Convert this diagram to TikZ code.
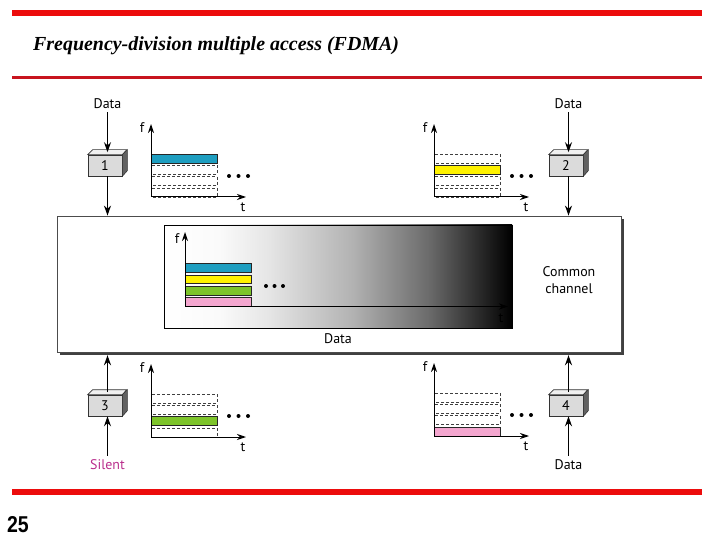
\documentclass[tikz,border=0pt]{standalone}
\usepackage{fontspec}
\setmainfont{Liberation Serif}
\newfontfamily\dsans{PT Sans}
\newfontfamily\numfont{Liberation Sans}
\usetikzlibrary{arrows.meta,calc}
\definecolor{slidered}{RGB}{236,12,12}
\definecolor{darkred}{RGB}{200,20,30}
\definecolor{bandblue}{RGB}{30,158,192}
\definecolor{bandyellow}{RGB}{255,242,0}
\definecolor{bandgreen}{RGB}{125,196,42}
\definecolor{bandpink}{RGB}{244,166,207}
\definecolor{silentcol}{RGB}{185,45,140}
\pgfdeclarehorizontalshading{fdmagrad}{100bp}{color(0bp)=(white); color(25bp)=(white); color(33bp)=(white!98!black); color(40bp)=(white!90!black); color(52bp)=(white!70!black); color(63bp)=(white!42!black); color(75bp)=(black); color(100bp)=(black)}
\tikzset{
  lbl/.style={font=\dsans\fontsize{14}{17}\selectfont, inner sep=0pt},
  arr/.style={-{Stealth[length=10bp,width=7bp]}, line width=1.4bp, black},
  cubefront/.style={draw=black!80, fill=black!14, minimum width=34bp, minimum height=21bp, inner sep=0pt, font=\dsans\fontsize{14}{15}\selectfont, line width=0.6bp},
  bandbox/.style={draw=black!85, line width=0.6bp},
  dbandbox/.style={draw=black!75, dash pattern=on 3bp off 2bp, line width=0.9bp},
  axisarr/.style={-{Stealth[length=9bp,width=6bp]}, line width=1bp},
}
\newcommand\fdcube[4]{%
  \node[cubefront] (#1) at (#2,#3) {#4};
  \filldraw[fill=black!6, draw=black!80, line width=0.6bp] (#1.north west) -- ++(5,-5) -- ++(34,0) -- (#1.north east) -- cycle;
  \filldraw[fill=black!62, draw=black!80, line width=0.6bp] (#1.north east) -- ++(5,-5) -- ++(0,21) -- (#1.south east) -- cycle;
  \coordinate (#1top) at ($(#1.north)+(2.5,-2.5)$);
}
\newcommand\minichart[5]{%
  \foreach \k in {1,...,4}{\draw[dbandbox] (#1,{#2-11.3*(\k-1)}) rectangle ++(66,-9);}
  \filldraw[bandbox, fill=#4] (#1,{#2-11.3*(#3-1)}) rectangle ++(66,-9);
  \draw[axisarr] (#1,#2) -- (#1,#2-73);
  \draw[axisarr] (#1,#2) -- (#1+95,#2);
  \node[lbl] (#5f) at (#1-9,#2-69) {f};
  \node[lbl] (#5t) at (#1+92,#2+10) {t};
  \foreach \i in {0,1,2}{\fill (#1+78+9.5*\i,#2-21) circle (2);}
}
\begin{document}
\begin{tikzpicture}[x=1bp,y=-1bp]
\useasboundingbox (0,0) rectangle (720,540);
% slide decoration
\fill[slidered] (12,10) rectangle (702,16);
\fill[darkred] (12,76) rectangle (702,79);
\fill[slidered] (12,489) rectangle (702,495);
\node[font=\fontsize{20}{22}\selectfont\bfseries\itshape, anchor=west, inner sep=0pt] (title) at (33,46) {Frequency-division multiple access (FDMA)};
\node[font=\numfont\bfseries\fontsize{23}{25}\selectfont, anchor=west, inner sep=0pt, xscale=0.85] (pg) at (7,525) {25};
% common channel
\node[fill=black!75, minimum width=564bp, minimum height=136bp, inner sep=0pt] (chs) at (342,287) {};
\node[draw=black!70, fill=white, minimum width=564bp, minimum height=136bp, inner sep=0pt, line width=0.8bp] (ch) at (339,284) {};
\node[draw=black, shade, shading=fdmagrad, minimum width=348bp, minimum height=103bp, inner sep=0pt, line width=0.7bp] (grad) at (338,276.5) {};
\filldraw[bandbox, fill=bandpink] (185,306) rectangle (251,297.5);
\filldraw[bandbox, fill=bandgreen] (185,295) rectangle (251,286.5);
\filldraw[bandbox, fill=bandyellow] (185,283.5) rectangle (251,275);
\filldraw[bandbox, fill=bandblue] (185,272) rectangle (251,263.5);
\draw[axisarr] (185,306.5) -- (185,232);
\draw[axisarr] (185,306.5) -- (508,306.5);
\node[lbl] (gf) at (177,239) {f};
\node[lbl] (gt) at (501,318) {t};
\foreach \i in {0,1,2}{\fill (266+8.5*\i,286) circle (2);}
\node[lbl] (gdata) at (338,339) {Data};
\node[lbl, align=center] (cc) at (569,280) {Common\\channel};
% station 1
\node[lbl] (d1) at (107.5,104) {Data};
\fdcube{b1}{105}{165.5}{1}
\draw[arr, shorten <=3bp] (d1.south) -- (b1top);
\draw[arr] (b1top |- b1.south) -- (b1top |- ch.north);
\minichart{151}{197}{4}{bandblue}{c1}
% station 2
\node[lbl] (d2) at (568.5,104) {Data};
\fdcube{b2}{566}{165.5}{2}
\draw[arr, shorten <=3bp] (d2.south) -- (b2top);
\draw[arr] (b2top |- b2.south) -- (b2top |- ch.north);
\minichart{434}{197}{3}{bandyellow}{c2}
% station 3
\node[lbl, text=silentcol] (s3) at (107.5,465) {Silent};
\fdcube{b3}{105}{405.5}{3}
\draw[arr, shorten <=4bp] (s3.north) -- (b3top |- b3.south);
\draw[arr] (b3top) -- (b3top |- chs.south);
\minichart{151}{437}{2}{bandgreen}{c3}
% station 4
\node[lbl] (d4) at (568.5,465) {Data};
\fdcube{b4}{566}{405.5}{4}
\draw[arr, shorten <=4bp] (d4.north) -- (b4top |- b4.south);
\draw[arr] (b4top) -- (b4top |- chs.south);
\minichart{434}{436}{1}{bandpink}{c4}
\end{tikzpicture}
\end{document}
